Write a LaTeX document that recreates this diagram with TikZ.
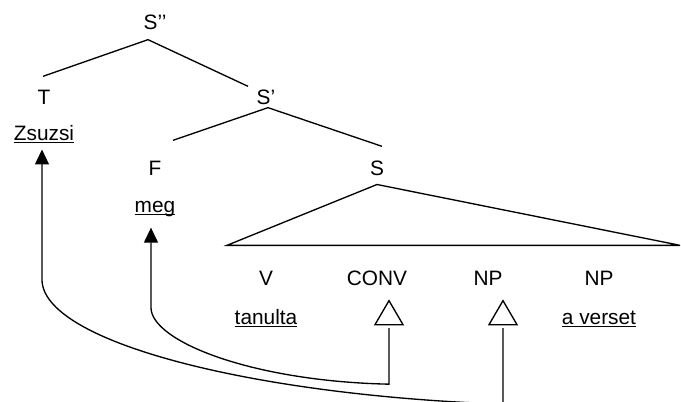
\documentclass[tikz,border=0pt]{standalone}
\usepackage{fontspec}
\setmainfont{Liberation Sans}
\usetikzlibrary{matrix,arrows.meta}

\newcommand\wul[1]{\setbox0\hbox{#1}\rlap{\rule[-1.7pt]{\wd0}{0.9pt}}\box0}

\begin{document}
\begin{tikzpicture}[line width=0.8pt, >={Triangle[length=9pt,width=8.4pt]}]
\matrix (m) [matrix of nodes, row sep=0pt, column sep=0pt,
	nodes={font=\fontsize{12.5}{15}\selectfont, text height=12pt, text depth=3pt, inner sep=2pt, minimum width=66.6pt}]
{
	& S’’ \\[26pt]
	T & & S’ \\[2.6pt]
	\wul{Zsuzsi} \\[2pt]
	& F & & S \\[3.2pt]
	& \wul{meg} \\[24.8pt]
	& & V & CONV & NP & NP \\[4.4pt]
	& & \wul{tanulta} & & & \wul{a verset} \\
};
\pgfresetboundingbox
\useasboundingbox ([shift={(-26.4pt,58.2pt)}]m-2-1.center) rectangle ([shift={(382.2pt,-182.4pt)}]m-2-1.center);

\draw ([shift={(-0.6pt,2.5pt)}]m-2-1.north) -- ([shift={(-4.2pt,-0.7pt)}]m-1-2.south) -- ([shift={(-10.8pt,-3.5pt)}]m-2-3.north);
\draw ([shift={(10.8pt,6.7pt)}]m-4-2.north) -- ([shift={(1.2pt,3.5pt)}]m-2-3.south) -- ([shift={(3pt,3.1pt)}]m-4-4.north);
\draw ([shift={(-23.4pt,9.7pt)}]m-6-3.north) -- (m-4-4.south) -- ([shift={(48.6pt,9.7pt)}]m-6-6.north) -- cycle;

\coordinate (conv) at ([shift={(7.2pt,-3.7pt)}]m-6-4.south);
\coordinate (np) at ([shift={(9pt,-3.7pt)}]m-6-5.south);
\foreach \t in {conv,np}
	\draw (\t) -- ++(-8.4pt,-14.4pt) -- ++(16.8pt,0) -- cycle;

\coordinate (zsuzsi) at ([xshift=-1.2pt]m-3-1.south);
\coordinate (meg) at ([shift={(-2.4pt,-3.7pt)}]m-5-2.south);
\draw[->] ([yshift=-16.5pt]conv) -- ++(0,-33.6pt) .. controls +(-83.4pt,1.8pt) and +(0,-19.8pt) .. ([yshift=-48pt]meg) -- (meg);
\draw[->] ([yshift=-16.5pt]np) -- ++(0,-45.6pt) .. controls +(-151.8pt,5.4pt) and +(0,-37.2pt) .. ([yshift=-78pt]zsuzsi) -- (zsuzsi);
\end{tikzpicture}
\end{document}
